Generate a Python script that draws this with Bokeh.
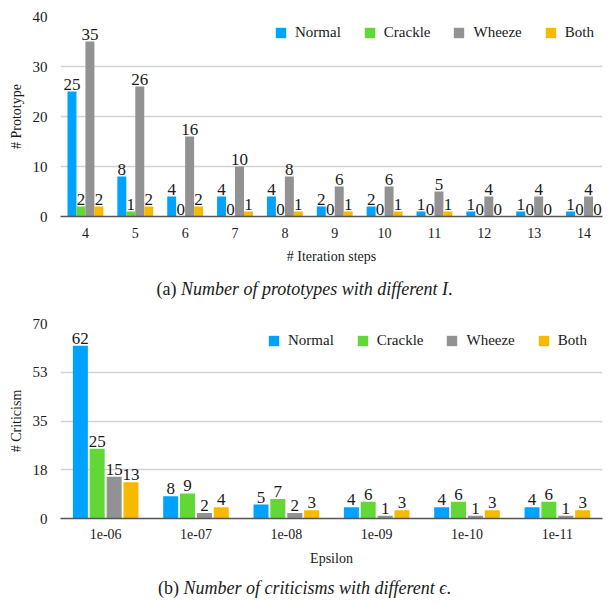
from bokeh.plotting import figure
from bokeh.models import ColumnDataSource, Range1d, FixedTicker, Div
from bokeh.transform import dodge
from bokeh.layouts import column
from bokeh.core.properties import value
from bokeh.embed import file_html
from bokeh.resources import INLINE

# ---------------- data ----------------
steps = ["4", "5", "6", "7", "8", "9", "10", "11", "12", "13", "14"]
proto_normal = [25, 8, 4, 4, 4, 2, 2, 1, 1, 1, 1]
proto_crackle = [2, 1, 0, 0, 0, 0, 0, 0, 0, 0, 0]
proto_wheeze = [35, 26, 16, 10, 8, 6, 6, 5, 4, 4, 4]
proto_both = [2, 2, 2, 1, 1, 1, 1, 1, 0, 0, 0]

epsilons = ["1e-06", "1e-07", "1e-08", "1e-09", "1e-10", "1e-11"]
crit_normal = [62, 8, 5, 4, 4, 4]
crit_crackle = [25, 9, 7, 6, 6, 6]
crit_wheeze = [15, 2, 2, 1, 1, 1]
crit_both = [13, 4, 3, 3, 3, 3]

series_names = ["Normal", "Crackle", "Wheeze", "Both"]
colors = ["#00A2FF", "#61D836", "#929292", "#F8BA00"]

proto_yticks = [0, 10, 20, 30, 40]
crit_yticks = [0, 17.5, 35, 52.5, 70]
crit_ylabels = ["0", "18", "35", "53", "70"]

FONT = "Liberation Serif"
W = 609


def make_chart(cats, series, y_end, yticks, ylabels, xlabel, ylabel,
               height, b_left, b_right, b_top, b_bottom, x_end,
               offsets, bar_w, legend_xy, x_standoff, xlab_standoff):
    idx = list(range(len(cats)))
    p = figure(width=W, height=height,
               x_range=Range1d(-0.5, x_end), y_range=Range1d(0, y_end),
               output_backend="svg", toolbar_location=None,
               min_border_left=b_left, min_border_right=b_right,
               min_border_top=b_top, min_border_bottom=b_bottom)
    p.outline_line_color = None
    p.background_fill_color = "white"
    p.border_fill_color = "white"

    for name, vals, col, off in zip(series_names, series, colors, offsets):
        src = ColumnDataSource(dict(x=idx, y=vals, label=[str(v) for v in vals]))
        p.vbar(x=dodge("x", off), top="y", width=bar_w, source=src,
               fill_color=col, line_color=None, legend_label=name)
        p.text(x=dodge("x", off), y="y", text="label", source=src,
               text_align="center", text_baseline="bottom", y_offset=-2,
               text_font=value(FONT), text_font_size="17px", text_color="#1a1a1a")

    p.xgrid.grid_line_color = None
    p.ygrid.grid_line_color = "#d2d2d2"
    p.ygrid.grid_line_width = 1.4
    p.ygrid.ticker = FixedTicker(ticks=yticks)

    xa = p.xaxis[0]
    xa.ticker = FixedTicker(ticks=idx)
    xa.major_label_overrides = {i: c for i, c in enumerate(cats)}
    xa.major_tick_line_color = None
    xa.major_tick_out = 0
    xa.major_tick_in = 0
    xa.minor_tick_line_color = None
    xa.minor_tick_out = 0
    xa.axis_line_color = "#555555"
    xa.axis_line_width = 1.6
    xa.major_label_text_font = FONT
    xa.major_label_text_font_size = "14px"
    xa.major_label_text_color = "#1a1a1a"
    xa.major_label_standoff = x_standoff
    xa.axis_label = xlabel
    xa.axis_label_text_font = FONT
    xa.axis_label_text_font_style = "normal"
    xa.axis_label_text_font_size = "14px"
    xa.axis_label_text_color = "#1a1a1a"
    xa.axis_label_standoff = xlab_standoff

    ya = p.yaxis[0]
    ya.ticker = FixedTicker(ticks=yticks)
    ya.major_label_overrides = {t: l for t, l in zip(yticks, ylabels)}
    ya.major_tick_line_color = None
    ya.major_tick_out = 0
    ya.major_tick_in = 0
    ya.minor_tick_line_color = None
    ya.minor_tick_out = 0
    ya.axis_line_color = None
    ya.major_label_text_font = FONT
    ya.major_label_text_font_size = "15px"
    ya.major_label_text_color = "#1a1a1a"
    ya.major_label_standoff = 13
    ya.axis_label = ylabel
    ya.axis_label_text_font = FONT
    ya.axis_label_text_font_style = "normal"
    ya.axis_label_text_font_size = "14px"
    ya.axis_label_text_color = "#1a1a1a"
    ya.axis_label_standoff = 6

    lg = p.legend[0]
    lg.location = legend_xy
    lg.orientation = "horizontal"
    lg.border_line_color = None
    lg.background_fill_alpha = 0
    lg.padding = 0
    lg.margin = 0
    lg.spacing = 22
    lg.glyph_width = 13
    lg.glyph_height = 13
    lg.label_standoff = 8
    lg.label_text_font = FONT
    lg.label_text_font_size = "15px"
    lg.label_text_color = "#1a1a1a"
    return p


p1 = make_chart(steps, [proto_normal, proto_crackle, proto_wheeze, proto_both],
                40, proto_yticks, [str(t) for t in proto_yticks],
                "# Iteration steps", "# Prototype",
                height=272, b_left=60, b_right=0, b_top=16, b_bottom=56,
                x_end=10.37, offsets=[-0.27, -0.09, 0.09, 0.27], bar_w=0.18,
                legend_xy=(214, 175), x_standoff=11, xlab_standoff=8)

p2 = make_chart(epsilons, [crit_normal, crit_crackle, crit_wheeze, crit_both],
                70, crit_yticks, crit_ylabels,
                "Epsilon", "# Criticism",
                height=262, b_left=59, b_right=7, b_top=13, b_bottom=54,
                x_end=5.5, offsets=[-0.28, -0.094, 0.094, 0.28], bar_w=0.166,
                legend_xy=(207, 169), x_standoff=10, xlab_standoff=9)

cap_style = ("text-align:center; width:609px; font-family:'Liberation Serif'; "
             "font-size:18px; color:#1a1a1a; margin:0; padding:0;")
cap1 = Div(text=f"<div style=\"{cap_style} line-height:34px;\">(a) <i>Number of prototypes with different I</i>.</div>",
           width=W, height=38, margin=0)
cap2 = Div(text=f"<div style=\"{cap_style} line-height:32px;\">(b) <i>Number of criticisms with different \u03f5</i>.</div>",
           width=W, height=33, margin=0)

layout = column(p1, cap1, p2, cap2, spacing=0)

open("out.html", "w").write(file_html(layout, INLINE))
